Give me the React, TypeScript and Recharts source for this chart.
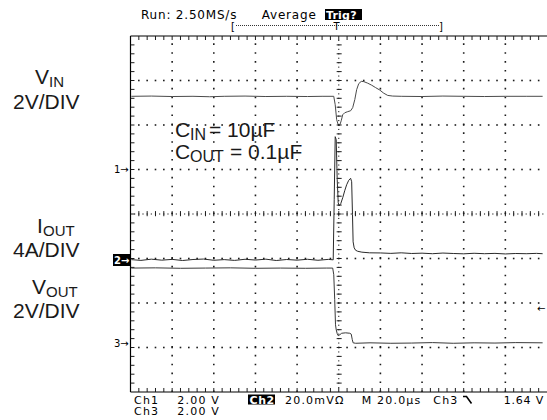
import React from 'react';
import { ComposedChart, Line, Scatter, XAxis, YAxis, ReferenceLine } from 'recharts';

const W = 547;
const H = 420;
const MARGIN = { top: 36, right: 0, bottom: 28, left: 130.5 };

// Horizontal: time in µs, 20 µs/div, 10 divisions, trigger at 0
const TIME_DOMAIN: [number, number] = [-100, 100];
// Vertical graticule in divisions
const DIV_DOMAIN: [number, number] = [-4, 4];
const MAJOR_T = [-80, -60, -40, -20, 20, 40, 60, 80];
const MAJOR_DIV = [-3, -2, -1, 1, 2, 3];

// Channel scale (units per division) and ground-marker offset (divisions from centre)
const CH1 = { perDiv: 2, groundDiv: 1.01 };   // VIN  (V)
const CH2 = { perDiv: 4, groundDiv: -1.03 };  // IOUT (A)
const CH3 = { perDiv: 2, groundDiv: -2.9 };   // VOUT (V)

// VIN trace (Ch1)
const vinTime = [-99.6, -90, -80, -70, -62, -55, -45, -35, -25, -15, -8, -2.4, -1.7, -1.0, -0.26, 0.46, 1.18, 1.9, 2.86, 4.3, 5.7, 6.7, 7.7, 8.6, 9.6, 10.8, 12.0, 13.9, 15.8, 17.7, 19.7, 21.6, 23.5, 25.9, 30, 40, 50, 60, 70, 80, 90, 97.9];
const vinVolts = [3.27, 3.28, 3.26, 3.27, 3.25, 3.27, 3.28, 3.26, 3.27, 3.26, 3.27, 3.27, 2.89, 2.22, 1.99, 1.97, 2.17, 2.44, 2.53, 2.58, 2.62, 2.76, 3.12, 3.57, 3.84, 3.94, 3.93, 3.86, 3.77, 3.66, 3.55, 3.41, 3.31, 3.28, 3.27, 3.26, 3.28, 3.27, 3.26, 3.27, 3.27, 3.27];

// IOUT trace (Ch2)
const ioutTime = [-99.6, -95, -90, -85, -80, -75, -70, -65, -60, -55, -50, -45, -40, -35, -30, -25, -20, -15, -10, -5, -2.66, -2.18, -1.7, -1.22, -0.74, -0.26, 0.22, 0.94, 1.9, 2.86, 3.8, 4.8, 5.7, 6.2, 6.6, 6.9, 7.4, 8.1, 9.1, 11.1, 14.8, 20, 25, 30, 35, 40, 45, 50, 55, 60, 65, 70, 75, 80, 85, 90, 95, 97.9];
const ioutAmps = [0.02, -0.05, 0.06, -0.03, 0.04, -0.06, 0.03, 0.07, -0.04, 0.02, -0.05, 0.05, -0.02, 0.06, -0.06, 0.03, -0.03, 0.05, -0.04, 0.04, 0.0, 5.4, 11.07, 10.8, 7.2, 5.13, 4.86, 5.04, 5.58, 6.21, 6.75, 7.15, 7.33, 7.02, 4.05, 1.62, 1.08, 0.86, 0.77, 0.69, 0.63, 0.62, 0.58, 0.63, 0.57, 0.6, 0.55, 0.61, 0.57, 0.54, 0.59, 0.55, 0.58, 0.53, 0.57, 0.55, 0.58, 0.55];

// VOUT trace (Ch3)
const voutTime = [-99.6, -88, -76, -64, -52, -40, -28, -16, -6, -2.9, -2.4, -1.94, -1.56, -1.22, -0.74, -0.26, 0.46, 1.4, 3.3, 5.3, 6.0, 6.5, 6.9, 8.1, 15, 25, 35, 45, 55, 65, 75, 85, 97.9];
const voutVolts = [3.37, 3.38, 3.36, 3.37, 3.38, 3.36, 3.37, 3.36, 3.37, 3.37, 3.07, 1.95, 0.82, 0.6, 0.42, 0.33, 0.37, 0.44, 0.46, 0.44, 0.4, 0.15, 0.01, -0.01, 0.01, -0.01, 0.0, 0.02, -0.01, 0.01, 0.0, 0.02, 0.01];

const toSeries = (ts: number[], vs: number[]) => ts.map((t, i) => ({ t, v: vs[i] }));
const vinData = toSeries(vinTime, vinVolts);
const ioutData = toSeries(ioutTime, ioutAmps);
const voutData = toSeries(voutTime, voutVolts);

const chDomain = (c: { perDiv: number; groundDiv: number }): [number, number] => [
  (-4 - c.groundDiv) * c.perDiv,
  (4 - c.groundDiv) * c.perDiv,
];

// graticule positions (5 minor steps per division)
const MINOR_T = Array.from({ length: 49 }, (_, i) => -96 + 4 * i);
const MINOR_D = Array.from({ length: 39 }, (_, i) => Math.round((-3.8 + 0.2 * i) * 10) / 10);
const FINE_T = Array.from({ length: 99 }, (_, i) => -98 + 2 * i);
const FINE_D = Array.from({ length: 79 }, (_, i) => Math.round((-3.9 + 0.1 * i) * 10) / 10);

const hGridDots = MAJOR_DIV.flatMap((d) => MINOR_T.map((t) => ({ t, d })));
const vGridLines = MAJOR_T.map((t) => [{ t, d: -4 }, { t, d: 4 }]);
const centreHDots = FINE_T.map((t) => ({ t, d: 0 }));
const centreVDots = FINE_D.map((d) => ({ t: 0, d }));

// short tick marks as broken polylines (null breaks the line)
const vTicks = (d0: number, d1: number) =>
  MINOR_T.flatMap((t) => [{ t, d: d0 }, { t, d: d1 }, { t, d: null as number | null }]);
const hTicks = (t0: number, t1: number) =>
  MINOR_D.flatMap((d) => [{ t: t0, d }, { t: t1, d }, { t: t1, d: null as number | null }]);
const topTicks = vTicks(4, 3.91);
const bottomTicks = vTicks(-4, -3.91);
const centreHTicks = vTicks(-0.05, 0.065);
const leftTicks = hTicks(-100, -98.1);
const centreVTicks = hTicks(-1, 1.4);

const INK = '#1c1c1c';

const Dot = (size: number) => (p: any) => (
  <rect x={p.cx - size / 2} y={p.cy - size / 2} width={size} height={size} fill={INK} />
);

const scope: React.CSSProperties = {
  fontFamily: '"DejaVu Sans", sans-serif',
  fontSize: 11,
  letterSpacing: 1.2,
};
const label: React.CSSProperties = {
  fontFamily: '"Liberation Sans", Arial, sans-serif',
  fontSize: 21,
};

function Sub({ x, y, main, sub, subDx, subSize = 15 }: { x: number; y: number; main: string; sub: string; subDx: number; subSize?: number }) {
  return (
    <g>
      <text x={x} y={y} style={label} fill="#1a1a1a">{main}</text>
      <text x={x + subDx} y={y + 3} style={{ ...label, fontSize: subSize }} fill="#1a1a1a">{sub}</text>
    </g>
  );
}

const tickLine = (data: any[], key: string) => (
  <Line key={key} data={data} yAxisId="div" dataKey="d" type="linear" stroke={INK} strokeWidth={1} dot={false} activeDot={false} connectNulls={false} isAnimationActive={false} />
);

export default function App() {
  return (
    <div style={{ position: 'absolute', left: 0, top: 0, width: W, height: H, background: '#fff' }}>
      <ComposedChart width={W} height={H} margin={MARGIN}>
        <XAxis type="number" dataKey="t" domain={TIME_DOMAIN} hide allowDataOverflow />
        <YAxis yAxisId="div" type="number" dataKey="d" domain={DIV_DOMAIN} hide allowDataOverflow />
        <YAxis yAxisId="ch1" type="number" domain={chDomain(CH1)} hide allowDataOverflow />
        <YAxis yAxisId="ch2" type="number" domain={chDomain(CH2)} hide allowDataOverflow />
        <YAxis yAxisId="ch3" type="number" domain={chDomain(CH3)} hide allowDataOverflow />

        <ReferenceLine yAxisId="div" x={-100} stroke="#000" strokeWidth={1.2} />
        <ReferenceLine yAxisId="div" y={4} stroke="#000" strokeWidth={1.2} />
        <ReferenceLine yAxisId="div" y={-4} stroke="#000" strokeWidth={1.2} />

        <Scatter yAxisId="div" data={hGridDots} dataKey="d" shape={Dot(1.6)} isAnimationActive={false} />
        {vGridLines.map((data, i) => (
          <Line key={'vg' + i} data={data} yAxisId="div" dataKey="d" type="linear" stroke={INK} strokeWidth={1.6} strokeDasharray={`1.6 ${(44.5 / 5 - 1.6).toFixed(2)}`} dot={false} activeDot={false} isAnimationActive={false} />
        ))}
        <Scatter yAxisId="div" data={centreHDots} dataKey="d" shape={Dot(1.1)} isAnimationActive={false} />
        <Scatter yAxisId="div" data={centreVDots} dataKey="d" shape={Dot(1.1)} isAnimationActive={false} />
        {tickLine(topTicks, 'tt')}
        {tickLine(bottomTicks, 'bt')}
        {tickLine(leftTicks, 'lt')}
        {tickLine(centreHTicks, 'ch')}
        {tickLine(centreVTicks, 'cv')}

        <Line data={vinData} yAxisId="ch1" dataKey="v" type="linear" stroke="#4a4a4a" strokeWidth={1} dot={false} activeDot={false} isAnimationActive={false} />
        <Line data={ioutData} yAxisId="ch2" dataKey="v" type="linear" stroke="#2a2a2a" strokeWidth={1} dot={false} activeDot={false} isAnimationActive={false} />
        <Line data={voutData} yAxisId="ch3" dataKey="v" type="linear" stroke="#3a3a3a" strokeWidth={1} dot={false} activeDot={false} isAnimationActive={false} />
      </ComposedChart>

      <svg width={W} height={H} style={{ position: 'absolute', left: 0, top: 0, pointerEvents: 'none' }}>
        {/* header */}
        <text x={141} y={18.5} style={{ ...scope, fontSize: 12, letterSpacing: 0.8 }} fill="#000">Run: 2.50MS/s</text>
        <text x={261.7} y={18.5} style={{ ...scope, fontSize: 12, letterSpacing: 0.8 }} fill="#000">Average</text>
        <rect x={325} y={9} width={37} height={11} fill="#000" />
        <text x={326} y={18.5} style={{ ...scope, letterSpacing: 0.2, fontWeight: 'bold' }} fill="#fff">Trig?</text>
        {/* trigger window bar */}
        <text x={231} y={30} style={{ ...scope, fontSize: 10, letterSpacing: 0 }} fill="#000">[</text>
        <line x1={236} y1={25.5} x2={440} y2={25.5} stroke="#333" strokeDasharray="1 1" />
        <text x={333.5} y={30} style={{ ...scope, fontSize: 10, letterSpacing: 0 }} fill="#000">T</text>
        <text x={439} y={30} style={{ ...scope, fontSize: 10, letterSpacing: 0 }} fill="#000">]</text>

        {/* footer */}
        <text x={134} y={403.5} style={scope} fill="#000">Ch1</text>
        <text x={177.3} y={403.5} style={scope} fill="#000">2.00 V</text>
        <rect x={248} y={394.5} width={27} height={10} fill="#000" />
        <text x={249.5} y={403.5} style={{ ...scope, letterSpacing: 0.6, fontWeight: 'bold' }} fill="#fff">Ch2</text>
        <text x={285} y={403.5} style={scope} fill="#000">20.0mVΩ</text>
        <text x={361.7} y={403.5} style={scope} fill="#000">M 20.0µs</text>
        <text x={433.3} y={403.5} style={scope} fill="#000">Ch3</text>
        <path d="M463 396.5 L466.5 396.5 L471.5 403.5" stroke="#000" strokeWidth={1.6} fill="none" />
        <text x={544} y={403.5} textAnchor="end" style={{ ...scope, letterSpacing: 0.8 }} fill="#000">1.64 V</text>
        <text x={134} y={415} style={scope} fill="#000">Ch3</text>
        <text x={177.3} y={415} style={scope} fill="#000">2.00 V</text>

        {/* channel ground markers */}
        <text x={114} y={173} style={{ ...scope, fontSize: 10, letterSpacing: 0 }} fill="#000">1→</text>
        <rect x={113} y={254} width={17} height={12} fill="#000" />
        <text x={114} y={264} style={{ ...scope, fontSize: 10, letterSpacing: 0, fontWeight: 'bold' }} fill="#fff">2→</text>
        <text x={114} y={347} style={{ ...scope, fontSize: 10, letterSpacing: 0 }} fill="#000">3→</text>
        <text x={537} y={311.5} style={{ ...scope, fontSize: 10, letterSpacing: 0 }} fill="#000">←</text>

        {/* channel labels */}
        <Sub x={35} y={84} main="V" sub="IN" subDx={14} />
        <text x={13} y={108.5} style={label} fill="#1a1a1a">2V/DIV</text>
        <Sub x={37} y={233} main="I" sub="OUT" subDx={6} />
        <text x={13} y={257} style={label} fill="#1a1a1a">4A/DIV</text>
        <Sub x={32} y={294} main="V" sub="OUT" subDx={14} />
        <text x={13} y={318} style={label} fill="#1a1a1a">2V/DIV</text>

        {/* annotation */}
        <Sub x={175} y={136.5} main="C" sub="IN" subDx={15} subSize={16} />
        <text x={209} y={136.5} style={label} fill="#1a1a1a">= 10µF</text>
        <Sub x={175} y={158.5} main="C" sub="OUT" subDx={15} subSize={16} />
        <text x={230} y={158.5} style={label} fill="#1a1a1a">= 0.1µF</text>
      </svg>
    </div>
  );
}
